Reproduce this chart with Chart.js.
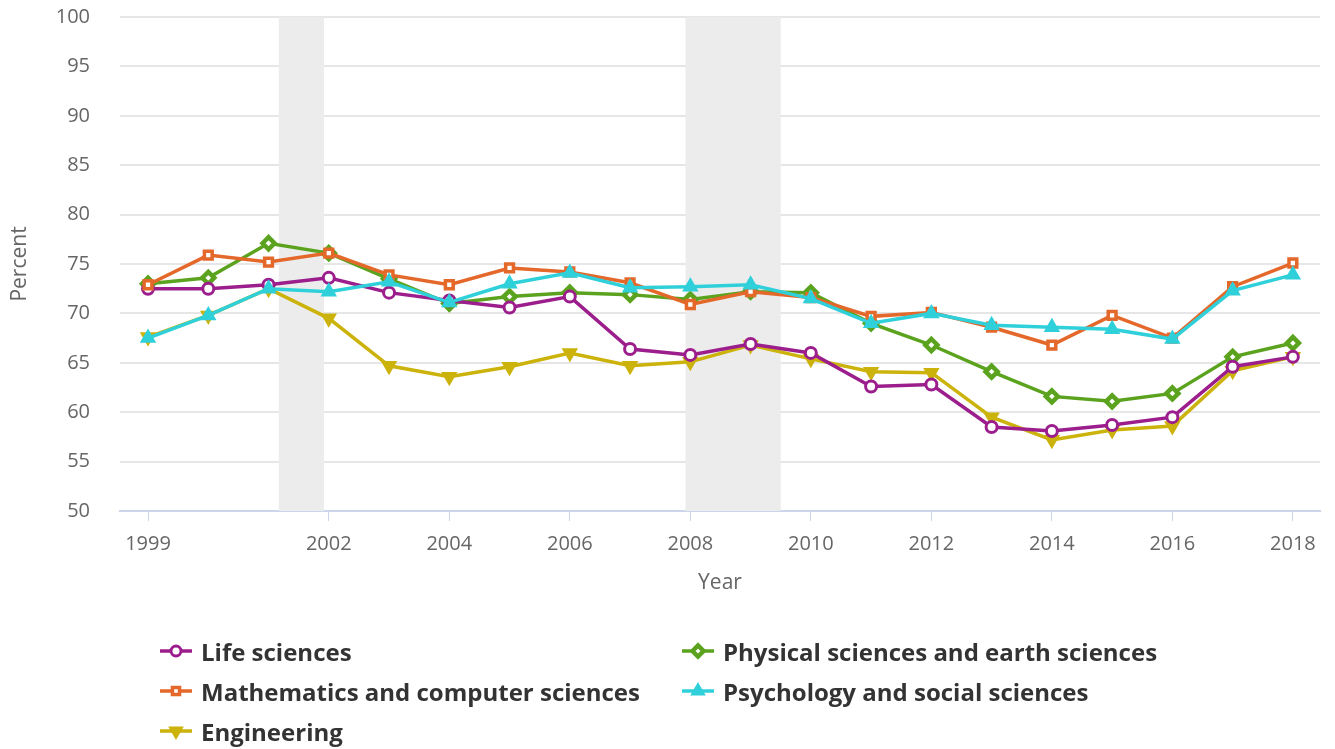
<!DOCTYPE html>
<html>
<head>
<meta charset="utf-8">
<script src="https://cdn.jsdelivr.net/npm/chart.js@4"></script>
<style>
  html, body { margin:0; padding:0; background:#fff; overflow:hidden; }
  #wrap { position:relative; width:1335px; height:749px; overflow:hidden; }
  #c { position:absolute; left:0; top:-25px; }
  #legend { position:absolute; left:158px; top:634px; width:1100px; font-family:"Open Sans", sans-serif; font-weight:700; font-size:24px; color:#333; }
  .item { position:absolute; display:flex; align-items:center; height:34px; white-space:nowrap; }
  .item canvas { margin-right:7px; }
</style>
</head>
<body>
<div id="wrap">
  <canvas id="c" width="1335" height="774"></canvas>
  <div id="legend"></div>
</div>
<script>
const years = [1999,2000,2001,2002,2003,2004,2005,2006,2007,2008,2009,2010,2011,2012,2013,2014,2015,2016,2017,2018];
const lifeSciences   = [72.5,72.5,72.9,73.6,72.1,71.3,70.6,71.7,66.4,65.8,66.9,66.0,62.6,62.8,58.5,58.1,58.7,59.5,64.6,65.6];
const physicalSci    = [73.0,73.6,77.1,76.1,73.5,71.0,71.7,72.1,71.9,71.4,72.2,72.1,69.0,66.8,64.1,61.6,61.1,61.9,65.6,67.0];
const mathCompSci    = [72.9,75.9,75.2,76.1,73.9,72.9,74.6,74.2,73.1,70.9,72.2,71.6,69.7,70.1,68.6,66.8,69.8,67.5,72.7,75.1];
const psychSocSci    = [67.5,69.8,72.5,72.2,73.2,71.1,73.0,74.1,72.6,72.7,72.9,71.5,69.0,70.0,68.8,68.6,68.4,67.4,72.3,73.9];
const engineering    = [67.6,69.8,72.5,69.5,64.7,63.6,64.6,66.0,64.7,65.1,66.8,65.4,64.1,64.0,59.5,57.2,58.2,58.6,64.2,65.6];
const xTickValues    = [1999,2002,2004,2006,2008,2010,2012,2014,2016,2018];
const yTickValues    = [50,55,60,65,70,75,80,85,90,95,100];
const recessionStart = [2001.17, 2007.92];
const recessionEnd   = [2001.92, 2009.5];
const seriesNames    = ["Life sciences","Physical sciences and earth sciences","Mathematics and computer sciences","Psychology and social sciences","Engineering"];

const colors = ["#9C1E8C","#5BA31E","#E4682A","#2FD0DA","#CCB30C"];
const styles = ["circle","rectRot","rect","triangle","triangle"];
const rotations = [0,0,0,0,180];
const radii = [5.5,6,5.5,7,7];
const bws = [3,4.5,3.5,2.5,2.5];
const values = [lifeSciences, physicalSci, mathCompSci, psychSocSci, engineering];

const datasets = values.map((vals,i)=>({
  label: seriesNames[i],
  data: years.map((y,j)=>({x:y, y:vals[j]})),
  borderColor: colors[i],
  backgroundColor: (i>=3) ? colors[i] : "#fff",
  pointBorderColor: colors[i],
  pointBackgroundColor: (i>=3) ? colors[i] : "#fff",
  pointStyle: styles[i],
  pointRotation: rotations[i],
  pointRadius: radii[i],
  pointBorderWidth: bws[i],
  borderWidth: 3.5,
  tension: 0,
  order: [2,3,1,0,4][i]
}));

const recessionPlugin = {
  id:'recession',
  beforeDatasetsDraw(chart){
    const {ctx, chartArea, scales:{x}} = chart;
    ctx.save();
    ctx.fillStyle = "#ececec";
    for (let i=0;i<recessionStart.length;i++){
      const a = x.getPixelForValue(recessionStart[i]);
      const b = x.getPixelForValue(recessionEnd[i]);
      ctx.fillRect(a, chartArea.top, b-a, chartArea.bottom-chartArea.top);
    }
    ctx.restore();
  }
};

Chart.defaults.font.family = "'Open Sans', sans-serif";

new Chart(document.getElementById('c'), {
  type:'line',
  data:{datasets},
  plugins:[recessionPlugin],
  options:{
    responsive:false,
    animation:false,
    layout:{padding:{top:8, right:15, bottom:148, left:0}},
    plugins:{legend:{display:false}, tooltip:{enabled:false}},
    scales:{
      x:{
        type:'linear',
        min:1998.535, max:2018.45,
        afterBuildTicks(s){ s.ticks = xTickValues.map(v=>({value:v})); },
        afterFit(s){ s.height = 90; },
        ticks:{ color:"#666", font:{size:20}, padding:11, callback:v=>String(v), autoSkip:false, maxRotation:0 },
        grid:{ display:true, drawOnChartArea:false, drawTicks:true, tickLength:10, color:"#ccd6eb", lineWidth:1 },
        border:{ display:true, color:"#ccd6eb", width:2 },
        title:{ display:true, text:"Year", color:"#666", font:{size:21}, padding:{top:0,bottom:5} }
      },
      y:{
        min:50, max:100,
        afterBuildTicks(s){ s.ticks = yTickValues.map(v=>({value:v})); },
        afterFit(s){ s.width = 120; },
        ticks:{ color:"#666", font:{size:20}, padding:30 },
        grid:{ color:"#e6e6e6", lineWidth:2, drawTicks:false },
        border:{ display:false },
        title:{ display:true, text:"Percent", color:"#666", font:{size:21}, padding:{top:7,bottom:0} }
      }
    }
  }
});

// HTML legend
const leg = document.getElementById('legend');
const pos = [[0,0],[522,0],[0,40],[522,40],[0,80]];
seriesNames.forEach((name,i)=>{
  const d = document.createElement('div');
  d.className='item';
  d.style.left = pos[i][0]+'px';
  d.style.top = pos[i][1]+'px';
  const c = document.createElement('canvas');
  c.width = 36; c.height = 20;
  const g = c.getContext('2d');
  g.strokeStyle = colors[i]; g.lineWidth = 3.5;
  g.beginPath(); g.moveTo(2,10); g.lineTo(34,10); g.stroke();
  g.fillStyle = (i>=3)?colors[i]:"#fff";
  g.lineWidth = bws[i];
  Chart.helpers.drawPoint(g, {pointStyle:styles[i], rotation:rotations[i], radius:radii[i]-0.5, borderWidth:bws[i]}, 18, 10);
  d.appendChild(c);
  const s = document.createElement('span'); s.textContent = name;
  d.appendChild(s);
  leg.appendChild(d);
});
</script>
</body>
</html>
